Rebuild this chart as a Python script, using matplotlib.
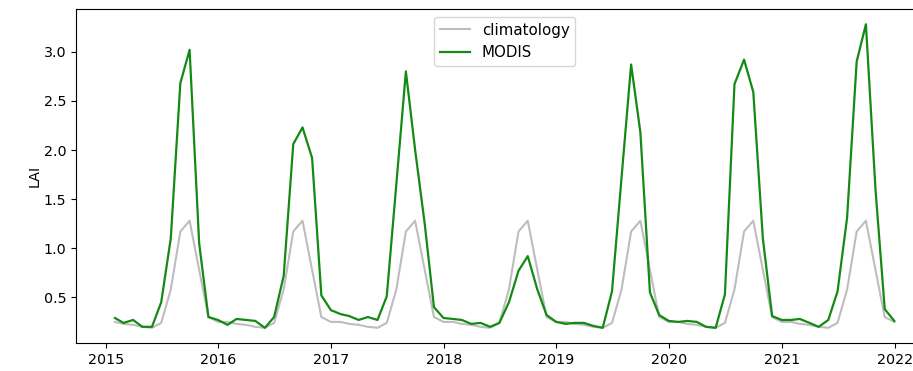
import numpy as np
import pandas as pd
import matplotlib
matplotlib.use("Agg")
import matplotlib.pyplot as plt
import matplotlib.dates as mdates

# monthly climatology (Jan..Dec), repeated every year
clim_monthly = [0.25, 0.23, 0.22, 0.20, 0.19, 0.24, 0.58, 1.17, 1.28, 0.78, 0.30, 0.25]

modis_2015 = [0.29, 0.24, 0.27, 0.20, 0.20, 0.45, 1.10, 2.68, 3.02, 1.05, 0.30, 0.27]
modis_2016 = [0.22, 0.28, 0.27, 0.26, 0.19, 0.30, 0.72, 2.06, 2.23, 1.92, 0.52, 0.37]
modis_2017 = [0.33, 0.31, 0.27, 0.30, 0.27, 0.51, 1.65, 2.80, 2.00, 1.25, 0.40, 0.29]
modis_2018 = [0.28, 0.27, 0.23, 0.24, 0.20, 0.24, 0.45, 0.77, 0.92, 0.58, 0.32, 0.25]
modis_2019 = [0.23, 0.24, 0.24, 0.21, 0.19, 0.56, 1.72, 2.87, 2.18, 0.55, 0.32, 0.26]
modis_2020 = [0.25, 0.26, 0.25, 0.20, 0.19, 0.53, 2.67, 2.92, 2.59, 1.10, 0.31, 0.27]
modis_2021 = [0.27, 0.28, 0.24, 0.20, 0.27, 0.56, 1.31, 2.90, 3.28, 1.60, 0.38, 0.26]

years = [2015, 2016, 2017, 2018, 2019, 2020, 2021]
modis = np.concatenate([modis_2015, modis_2016, modis_2017, modis_2018,
                        modis_2019, modis_2020, modis_2021])
dates = pd.date_range(f"{years[0]}-01-31", periods=12 * len(years), freq="ME")
clim = np.tile(clim_monthly, len(years))

fig = plt.figure(figsize=(9.13, 3.71), dpi=100)
ax = fig.add_axes([0.0832, 0.0755, 0.939, 0.900])

ax.plot(dates, clim, color="#bdbdbd", lw=1.5, label="climatology")
ax.plot(dates, modis, color="#138a13", lw=1.6, label="MODIS")

ax.xaxis.set_major_locator(mdates.YearLocator())
ax.xaxis.set_major_formatter(mdates.DateFormatter("%Y"))
ax.set_yticks([0.5, 1.0, 1.5, 2.0, 2.5, 3.0])
ax.tick_params(labelsize=10.3)
ax.set_ylabel("LAI", fontsize=10.3, labelpad=1)
ax.legend(loc="upper center", fontsize=10.8)

fig.savefig("out.png", dpi=100)
